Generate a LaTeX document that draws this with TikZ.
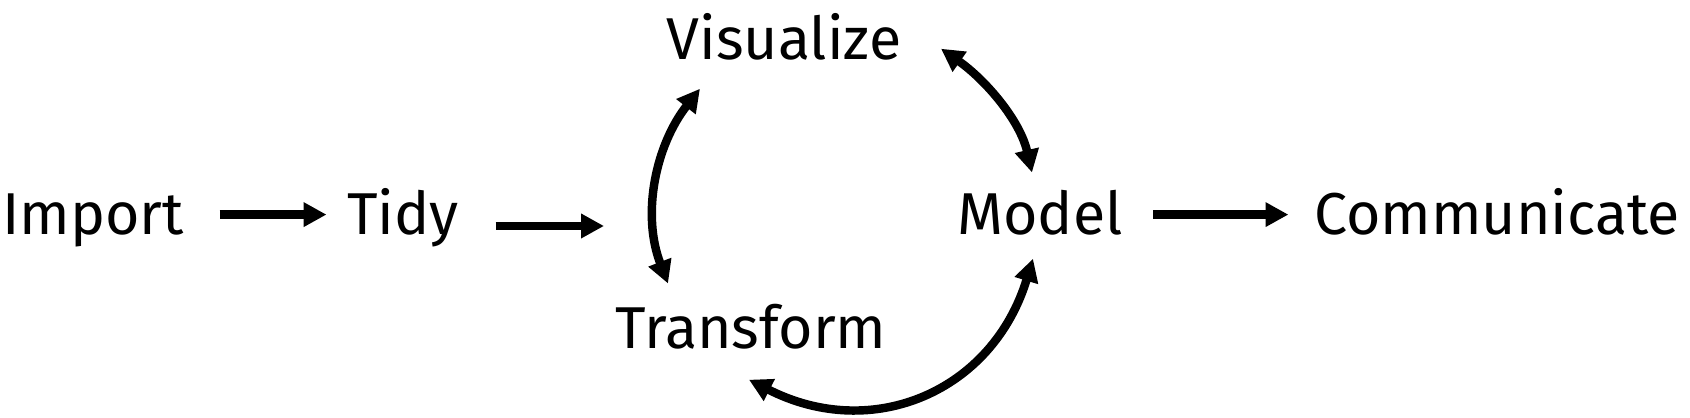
\documentclass[tikz,border=0pt]{standalone}
\usepackage{fontspec}
\setmainfont{Fira Sans}
\usetikzlibrary{arrows.meta}
\begin{document}
\begin{tikzpicture}[x=0.01cm,y=0.01cm,
  word/.style={anchor=base,inner sep=0pt,font=\fontsize{16.8}{20}\selectfont,text height=11.6pt,text depth=0pt},
  flow/.style={draw,line width=2.4pt,-{Triangle[length=6.5pt,width=6.6pt]}},
  cycle/.style={draw,line width=2.4pt,{Triangle[length=6.5pt,width=6.6pt]}-{Triangle[length=6.5pt,width=6.6pt]}}]
\useasboundingbox (0,0) rectangle (1690,418);
\node[word] (imp) at (93,183) {Import};
\node[word] (tidy) at (403,183) {Tidy};
\node[word] (vis) at (784,358) {Visualize};
\node[word] (trans) at (751,69) {Transform};
\node[word] (model) at (1040,183) {Model};
\node[word] (comm) at (1497,183) {Communicate};
\coordinate (hub) at (604,192);

\path[flow,shorten <=0.35cm,shorten >=0.2cm] (imp.east) -- (tidy.west);
\path[flow,shorten <=0.36cm] (tidy.east |- hub) -- (hub);
\path[flow,shorten <=0.3cm,shorten >=0.25cm] (model.east) -- (comm.west);
\path[cycle] ([shift={(-84,-28)}]vis.south) to[out=232,in=111,looseness=0.95] ([shift={(-83,24)}]trans.north);
\path[cycle] ([shift={(157,12)}]vis.south) to[out=325,in=103,looseness=0.9] ([shift={(-8,21)}]model.north);
\path[cycle] ([shift={(-2,-30)}]trans.south) to[out=333,in=253,looseness=1.15] ([shift={(-7,-23)}]model.south);
\end{tikzpicture}
\end{document}
